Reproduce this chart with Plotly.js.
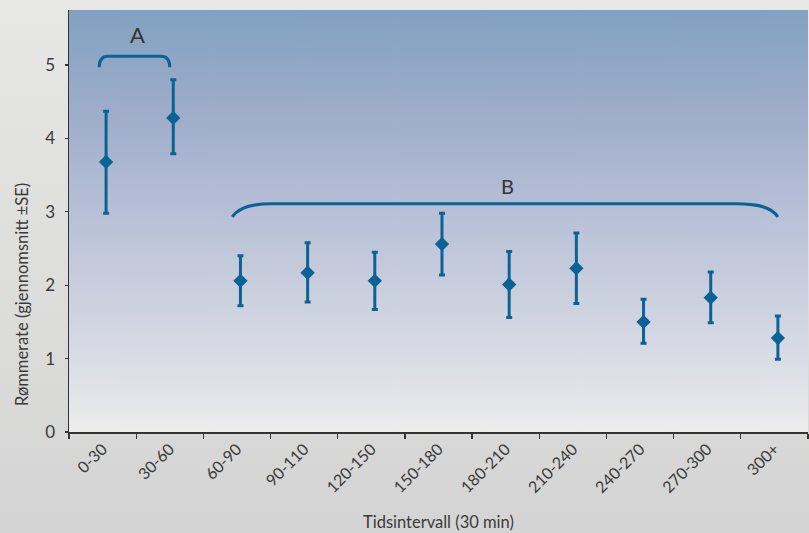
<!DOCTYPE html>
<html>
<head>
<meta charset="utf-8">
<script src="https://cdn.plot.ly/plotly-3.0.1.min.js"></script>
<style>
  html, body { margin: 0; padding: 0; }
  body { width: 809px; height: 533px; background: linear-gradient(to bottom, #e7e7e5 0%, #dcdcdb 60%, #d4d4d4 100%); }
  #chart { width: 809px; height: 533px; }
</style>
</head>
<body>
<div id="chart"></div>
<script>
// Data
const categories = ["0-30", "30-60", "60-90", "90-110", "120-150", "150-180", "180-210", "210-240", "240-270", "270-300", "300+"];
const meanRate   = [3.68, 4.28, 2.06, 2.17, 2.06, 2.56, 2.01, 2.23, 1.50, 1.83, 1.28];
const upperSE    = [4.37, 4.80, 2.40, 2.58, 2.45, 2.98, 2.46, 2.71, 1.81, 2.18, 1.58];
const lowerSE    = [2.98, 3.79, 1.72, 1.77, 1.67, 2.14, 1.56, 1.75, 1.21, 1.49, 0.99];
const groupLabels = ["A", "B"];

const errPlus  = upperSE.map((u, i) => +(u - meanRate[i]).toFixed(3));
const errMinus = lowerSE.map((l, i) => +(meanRate[i] - l).toFixed(3));

const blue = '#0b6294';

// gradient image for the plot area
const cv = document.createElement('canvas');
cv.width = 8; cv.height = 422;
const ctx = cv.getContext('2d');
const g = ctx.createLinearGradient(0, 0, 0, 422);
g.addColorStop(0.00, '#82a1c1');
g.addColorStop(0.26, '#a0aecb');
g.addColorStop(0.38, '#adb8d2');
g.addColorStop(0.85, '#dcdee6');
g.addColorStop(1.00, '#ededed');
ctx.fillStyle = g;
ctx.fillRect(0, 0, 8, 422);
const gradURL = cv.toDataURL('image/png');

const trace = {
  type: 'scatter',
  mode: 'markers',
  x: categories,
  y: meanRate,
  xaxis: 'x2',
  marker: { symbol: 'diamond', size: 11, color: blue },
  error_y: {
    type: 'data', symmetric: false,
    array: errPlus, arrayminus: errMinus,
    color: blue, thickness: 3, width: 3
  },
  hoverinfo: 'x+y'
};

const font = 'Lato, "Open Sans", sans-serif';

const layout = {
  width: 809, height: 533,
  margin: { l: 69, r: 1, t: 10, b: 101 },
  paper_bgcolor: 'rgba(0,0,0,0)',
  plot_bgcolor: 'rgba(0,0,0,0)',
  showlegend: false,
  font: { family: font, color: '#3a3a3a', size: 14 },
  xaxis: {
    type: 'category',
    categoryorder: 'array', categoryarray: categories,
    range: [-0.5, 10.5],
    tickson: 'boundaries',
    ticks: 'outside', ticklen: 5, tickwidth: 1.2, tickcolor: '#333',
    tickangle: -45,
    tickfont: { family: font, size: 16, color: '#3a3a3a' },
    showline: true, linecolor: '#333', linewidth: 1.5,
    showgrid: false, zeroline: false, fixedrange: true
  },
  xaxis2: {
    type: 'category',
    categoryorder: 'array', categoryarray: categories,
    range: [-0.552, 10.448],
    overlaying: 'x', visible: false, fixedrange: true
  },
  yaxis: {
    range: [0, 5.75],
    dtick: 1, tick0: 0,
    ticks: 'outside', ticklen: 3, tickwidth: 1.2, tickcolor: '#333',
    ticklabelstandoff: 6,
    tickfont: { family: font, size: 17, color: '#3a3a3a' },
    showline: true, linecolor: '#333', linewidth: 1.5,
    showgrid: false, zeroline: false, fixedrange: true
  },
  images: [{
    source: gradURL, xref: 'paper', yref: 'paper',
    x: 0, y: 1, sizex: 1, sizey: 1,
    sizing: 'stretch', xanchor: 'left', yanchor: 'top', layer: 'below'
  }],
  shapes: [
    { type: 'path', xref: 'x', yref: 'y',
      path: 'M -0.05,4.97 Q -0.05,5.12 0.08,5.12 L 0.87,5.12 Q 1.0,5.12 1.0,4.97',
      line: { color: blue, width: 3 } },
    { type: 'path', xref: 'x', yref: 'y',
      path: 'M 1.93,2.93 C 2.04,3.08 2.27,3.11 2.52,3.11 L 9.43,3.11 C 9.74,3.11 9.96,3.07 10.05,2.93',
      line: { color: blue, width: 3 } }
  ],
  annotations: [
    { text: groupLabels[0], xref: 'x', yref: 'y', x: 0.52, y: 5.41, showarrow: false,
      font: { family: font, size: 22, color: '#333' }, xanchor: 'center', yanchor: 'middle' },
    { text: groupLabels[1], xref: 'x', yref: 'y', x: 6.03, y: 3.35, showarrow: false,
      font: { family: font, size: 20, color: '#333' }, xanchor: 'center', yanchor: 'middle' },
    { text: 'Rømmerate (gjennomsnitt ±SE)', xref: 'paper', yref: 'paper',
      x: -0.0636, y: 0.327, textangle: -90, showarrow: false,
      font: { family: font, size: 16.5, color: '#3a3a3a' }, xanchor: 'center', yanchor: 'middle' },
    { text: 'Tidsintervall (30 min)', xref: 'paper', yref: 'paper',
      x: 0.5, y: -0.213, showarrow: false,
      font: { family: font, size: 16.5, color: '#3a3a3a' }, xanchor: 'center', yanchor: 'middle' }
  ]
};

Plotly.newPlot('chart', [trace], layout, { displayModeBar: false, staticPlot: true });
</script>
</body>
</html>
